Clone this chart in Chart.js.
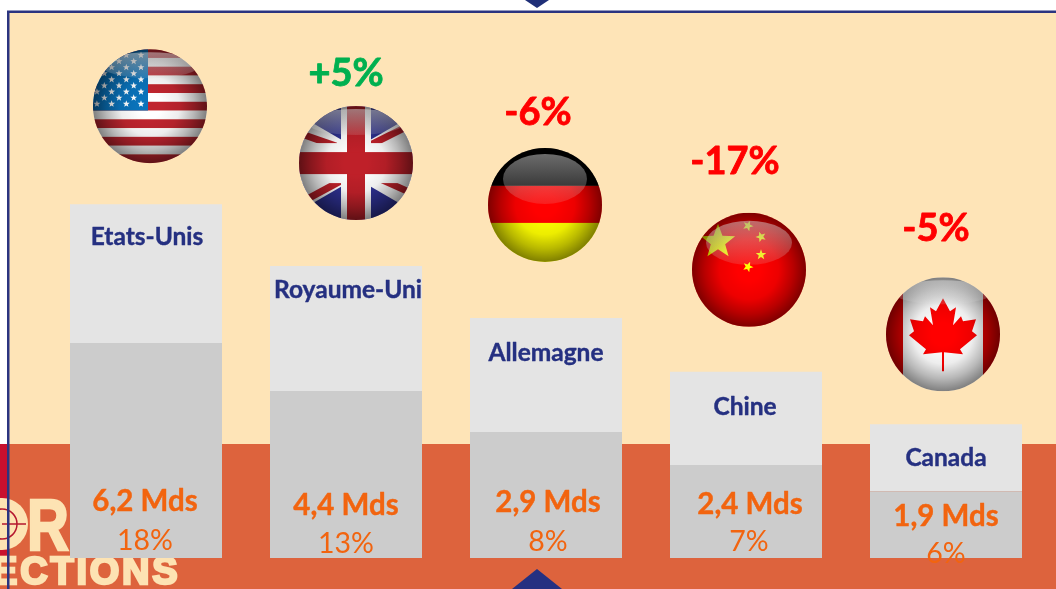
<!DOCTYPE html>
<html><head><meta charset="utf-8">
<style>html,body{margin:0;padding:0;background:#fff;overflow:hidden}canvas{display:block}</style>
<script src="https://cdn.jsdelivr.net/npm/chart.js@4"></script>
</head><body><canvas id="c" width="1056" height="589"></canvas>
<script>
// Data
const categories = ["Etats-Unis","Royaume-Uni","Allemagne","Chine","Canada"];
const lowerSegment = [6.14,4.77,3.60,2.66,1.91];
const upperSegment = [3.97,3.57,3.26,2.66,1.91];
const amountLabels = ["6,2 Mds","4,4 Mds","2,9 Mds","2,4 Mds","1,9 Mds"];
const shareLabels = ["18%","13%","8%","7%","6%"];
const changeLabels = ["","+5%","-6%","-17%","-5%"];
const flags = ["us","uk","de","cn","ca"];

// Placement offsets relative to each bar (centre x / stack top or base)
const layoutOffsets = {
  flag:[[4,-98],[10,-103],[-1,-113],[3,-102],[-3,-90]],
  change:[null,[0,-192],[-8,-205],[-11,-210],[-10,-196]],
  name:[[1,33],[2,24],[0,35],[-1,35],[0,34]],
  amount:[[-1,-57],[0,-53],[2,-56],[4,-54],[0,-42]],
  share:[[-1,-17],[0,-14],[2,-16],[3,-16],[0,-4]]
};

function star(ctx,x,y,r,rot,fill){
  ctx.beginPath();
  for(let i=0;i<10;i++){
    const a=rot-Math.PI/2+i*Math.PI/5, q=i%2?r*0.42:r;
    ctx.lineTo(x+Math.cos(a)*q,y+Math.sin(a)*q);
  }
  ctx.closePath();ctx.fillStyle=fill;ctx.fill();
}
function poly(ctx,pts,fill){
  ctx.beginPath();pts.forEach(p=>ctx.lineTo(p[0],p[1]));ctx.closePath();ctx.fillStyle=fill;ctx.fill();
}
const painters={
  us(ctx,cx,cy,R){
    const top=cy-R,h=2*R/13;
    for(let i=0;i<13;i++){ctx.fillStyle=i%2?"#ffffff":"#c0252f";ctx.fillRect(cx-R,top+i*h,2*R,h+0.3);}
    ctx.fillStyle="#0a73bb";ctx.fillRect(cx-R,top,R-2,7*h);
    for(let r=0;r<9;r++){
      const n=r%2?3:4;
      for(let k=0;k<n;k++){
        star(ctx,cx-(r%2?16.3:9)-14.7*k,top+6+r*6.1,3.6,0,"#ffffff");
      }
    }
  },
  uk(ctx,cx,cy,R){
    ctx.fillStyle="#2e3192";ctx.fillRect(cx-R,cy-R,2*R,2*R);
    ctx.strokeStyle="#ffffff";ctx.lineWidth=26;ctx.lineCap="butt";
    for(const s of [1,-1]){
      ctx.beginPath();ctx.moveTo(cx-R-5,cy-s*(R+5)*0.58);ctx.lineTo(cx+R+5,cy+s*(R+5)*0.58);ctx.stroke();
    }
    ctx.strokeStyle="#bf2029";ctx.lineWidth=7;
    for(const seg of [[10,-16,60,-41],[20,14,60,32],[-10,15,-60,42],[-20,-17,-60,-31]]){
      ctx.beginPath();ctx.moveTo(cx+seg[0],cy+seg[1]);ctx.lineTo(cx+seg[2],cy+seg[3]);ctx.stroke();
    }
    ctx.fillStyle="#ffffff";ctx.fillRect(cx-15,cy-R,30,2*R);ctx.fillRect(cx-R,cy-20,2*R,40);
    ctx.fillStyle="#bf2029";ctx.fillRect(cx-9,cy-R,18,2*R);ctx.fillRect(cx-R,cy-11,2*R,22);
  },
  de(ctx,cx,cy,R){
    ctx.fillStyle="#000";ctx.fillRect(cx-R,cy-R,2*R,38);
    ctx.fillStyle="#ff0000";ctx.fillRect(cx-R,cy-19,2*R,38);
    ctx.fillStyle="#ffff00";ctx.fillRect(cx-R,cy+18,2*R,40);
  },
  cn(ctx,cx,cy,R){
    ctx.fillStyle="#ff0000";ctx.fillRect(cx-R,cy-R,2*R,2*R);
    star(ctx,cx-31,cy-28,18,0,"#ffff00");
    star(ctx,cx-1,cy-44,5.5,0.4,"#ffff00");
    star(ctx,cx+12,cy-33,5.5,0.9,"#ffff00");
    star(ctx,cx+12,cy-15,5.5,0,"#ffff00");
    star(ctx,cx-1,cy-3,5.5,0.4,"#ffff00");
  },
  ca(ctx,cx,cy,R){
    ctx.fillStyle="#ffffff";ctx.fillRect(cx-R,cy-R,2*R,2*R);
    ctx.fillStyle="#e00000";ctx.fillRect(cx-R,cy-R,17,2*R);ctx.fillRect(cx+40,cy-R,17,2*R);
    const L=[[0,-36],[-7,-23],[-13,-27],[-10,-9],[-18,-18],[-20,-13],[-33,-15],[-29,-3],[-34,1],[-17,15],[-20,20],[-1,18],[-1,37],[1,37],[1,18],[20,20],[17,15],[34,1],[29,-3],[33,-15],[20,-13],[18,-18],[10,-9],[13,-27],[7,-23]];
    poly(ctx,L.map(p=>[cx+p[0],cy+p[1]]),"#ff0000");
  }
};
const glossShape={us:[50,-41,13],uk:[50,-41,13],de:[42,-26,25],cn:[43,-27,22],ca:[50,-42,12]};
function drawGlobe(ctx,kind,cx,cy,R){
  ctx.save();
  ctx.beginPath();ctx.arc(cx,cy,R,0,Math.PI*2);ctx.clip();
  painters[kind](ctx,cx,cy,R);
  const shade=ctx.createRadialGradient(cx,cy,R*0.2,cx,cy,R);
  shade.addColorStop(0,"rgba(0,0,0,0)");
  shade.addColorStop(0.4,"rgba(0,0,0,0.07)");
  shade.addColorStop(0.72,"rgba(0,0,0,0.28)");
  shade.addColorStop(1,"rgba(0,0,0,0.5)");
  ctx.fillStyle=shade;ctx.fillRect(cx-R,cy-R,2*R,2*R);
  const s=glossShape[kind];
  const g=ctx.createLinearGradient(0,cy+s[1]-s[2],0,cy+s[1]+s[2]);
  g.addColorStop(0,"rgba(215,215,215,0.5)");
  g.addColorStop(1,"rgba(215,215,215,0.14)");
  ctx.fillStyle=g;ctx.beginPath();ctx.ellipse(cx,cy+s[1],s[0],s[2],0,0,Math.PI*2);ctx.fill();
  ctx.restore();
}
function heavyText(ctx,text,x,y,weight){
  ctx.fillText(text,x,y);
  ctx.lineWidth=weight;ctx.strokeStyle=ctx.fillStyle;ctx.strokeText(text,x,y);
}

const backdrop={id:"backdrop",beforeDraw(chart){
  const ctx=chart.ctx;ctx.save();
  ctx.fillStyle="#ffffff";ctx.fillRect(0,0,1056,589);
  ctx.fillStyle="#fee4b7";ctx.fillRect(8,13,1048,431);
  ctx.fillStyle="#dd633d";ctx.fillRect(0,444,1056,145);
  ctx.fillStyle="#c8102e";ctx.fillRect(0,444,8,112);
  // logo
  ctx.fillStyle="#fde3b3";ctx.beginPath();ctx.arc(2,524,26,0,Math.PI*2);ctx.fill();
  ctx.strokeStyle="#b5172f";ctx.lineWidth=1.5;
  ctx.beginPath();ctx.arc(2,524,15,0,Math.PI*2);ctx.moveTo(2,524);ctx.lineTo(26,524);ctx.moveTo(8,505);ctx.lineTo(8,543);ctx.stroke();
  ctx.fillStyle="#fde3b3";ctx.strokeStyle="#fde3b3";ctx.textBaseline="alphabetic";ctx.textAlign="left";
  ctx.save();ctx.translate(27,550);ctx.scale(1,1.25);ctx.lineWidth=2;
  ctx.font="bold 58px 'Liberation Sans'";
  ctx.fillText("R",0,0);ctx.strokeText("R",0,0);ctx.restore();
  ctx.lineWidth=2.5;
  ctx.font="bold 38px 'Liberation Sans'";ctx.letterSpacing="2.8px";
  ctx.fillText("ECTIONS",-8,584);ctx.strokeText("ECTIONS",-8,584);
  ctx.letterSpacing="0px";
  // frame
  ctx.fillStyle="#2b3480";ctx.fillRect(7,11,2.5,578);ctx.fillRect(7,10.5,1049,2.5);
  ctx.fillStyle="#1f2f78";
  ctx.beginPath();ctx.moveTo(525,0);ctx.lineTo(549,0);ctx.lineTo(537,8);ctx.closePath();ctx.fill();
  ctx.fillStyle="#253081";
  ctx.beginPath();ctx.moveTo(537,569);ctx.lineTo(562,589);ctx.lineTo(512,589);ctx.closePath();ctx.fill();
  ctx.restore();
}};
const annotations={id:"annotations",afterDatasetsDraw(chart){
  const ctx=chart.ctx,xs=chart.scales.x,ys=chart.scales.y;
  ctx.save();ctx.textAlign="center";ctx.textBaseline="middle";ctx.lineJoin="round";
  categories.forEach((name,i)=>{
    const cx=xs.getPixelForValue(i),base=ys.getPixelForValue(0),top=ys.getPixelForValue(lowerSegment[i]+upperSegment[i]);
    const o=layoutOffsets;
    drawGlobe(ctx,flags[i],cx+o.flag[i][0],top+o.flag[i][1],57);
    if(changeLabels[i]){
      ctx.font="bold 38px Lato";ctx.fillStyle=changeLabels[i][0]==="+"?"#00b050":"#ff0000";
      heavyText(ctx,changeLabels[i],cx+o.change[i][0],top+o.change[i][1],0.8);
    }
    ctx.font="bold 24.5px Lato";ctx.fillStyle="#253081";
    heavyText(ctx,name,cx+o.name[i][0],top+o.name[i][1],0.4);
    ctx.font="bold 29.5px Lato";ctx.fillStyle="#f2640f";
    heavyText(ctx,amountLabels[i],cx+o.amount[i][0],base+o.amount[i][1],0.4);
    ctx.font="28.5px Lato";
    ctx.fillText(shareLabels[i],cx+o.share[i][0],base+o.share[i][1]);
  });
  ctx.restore();
}};
new Chart(document.getElementById("c"),{
  type:"bar",
  data:{labels:categories,datasets:[
    {data:lowerSegment,backgroundColor:"#cccccc",borderWidth:0},
    {data:upperSegment,backgroundColor:"#e4e4e4",borderWidth:0}
  ]},
  options:{
    responsive:false,animation:false,
    layout:{padding:{left:46,right:10,top:33,bottom:31}},
    datasets:{bar:{barPercentage:0.76,categoryPercentage:1}},
    plugins:{legend:{display:false},tooltip:{enabled:false},title:{display:false}},
    scales:{
      x:{stacked:true,display:false},
      y:{stacked:true,display:false,min:0,max:15}
    }
  },
  plugins:[backdrop,annotations]
});
</script></body></html>
